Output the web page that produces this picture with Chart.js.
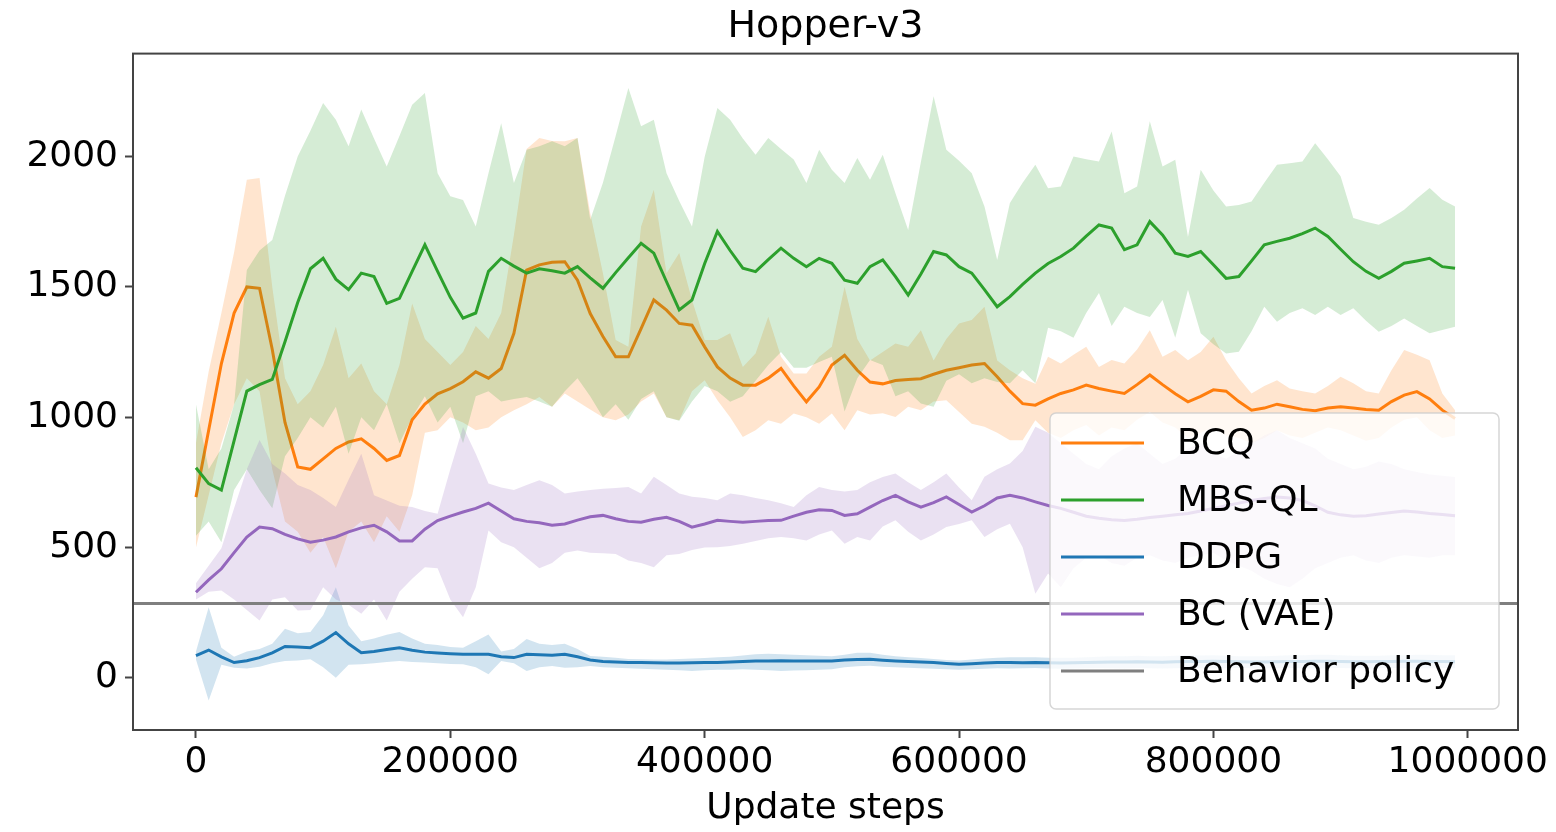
<!DOCTYPE html>
<html>
<head>
<meta charset="utf-8">
<title>Hopper-v3</title>
<script src="https://cdn.jsdelivr.net/npm/chart.js@4.4.1/dist/chart.umd.min.js"></script>
<style>
  html, body { margin: 0; padding: 0; background: #fff; }
  #wrap { width: 1556px; height: 832px; }
</style>
</head>
<body>
<div id="wrap"><canvas id="hopper" width="1556" height="832"></canvas></div>
<script>
// evaluation points (update steps)
const steps = [
  0, 10000, 20000, 30000, 40000, 50000, 60000, 70000, 80000, 90000,
  100000, 110000, 120000, 130000, 140000, 150000, 160000, 170000, 180000, 190000,
  200000, 210000, 220000, 230000, 240000, 250000, 260000, 270000, 280000, 290000,
  300000, 310000, 320000, 330000, 340000, 350000, 360000, 370000, 380000, 390000,
  400000, 410000, 420000, 430000, 440000, 450000, 460000, 470000, 480000, 490000,
  500000, 510000, 520000, 530000, 540000, 550000, 560000, 570000, 580000, 590000,
  600000, 610000, 620000, 630000, 640000, 650000, 660000, 670000, 680000, 690000,
  700000, 710000, 720000, 730000, 740000, 750000, 760000, 770000, 780000, 790000,
  800000, 810000, 820000, 830000, 840000, 850000, 860000, 870000, 880000, 890000,
  900000, 910000, 920000, 930000, 940000, 950000, 960000, 970000, 980000, 990000
];

const bcqMean = [
  693, 950, 1206, 1400, 1500, 1495, 1260, 980, 809, 800,
  840, 880, 905, 917, 880, 834, 853, 990, 1050, 1090,
  1110, 1136, 1174, 1150, 1187, 1322, 1565, 1585, 1595, 1597,
  1526, 1398, 1310, 1232, 1232, 1340, 1450, 1411, 1360, 1353,
  1270, 1193, 1150, 1123, 1123, 1150, 1187, 1120, 1059, 1116,
  1200, 1238, 1180, 1135, 1128, 1141, 1145, 1148, 1165, 1180,
  1190, 1200, 1206, 1155, 1100, 1052, 1046, 1070, 1091, 1105,
  1123, 1110, 1100, 1091, 1125, 1162, 1125, 1090, 1059, 1080,
  1105, 1100, 1060, 1027, 1035, 1050, 1040, 1030, 1025, 1035,
  1040, 1035, 1030, 1027, 1060, 1085, 1098, 1070, 1027, 995
];
const bcqLow = [
  500, 700, 900, 1050, 1150, 1100, 800, 600, 560, 480,
  540, 420, 560, 600, 520, 620, 560, 700, 940, 950,
  1000, 980, 950, 960, 1000, 1027, 1050, 1078, 1040, 1091,
  1060, 1030, 1000, 988, 1010, 1060, 1091, 1000, 988, 1100,
  1142, 1065, 1000, 924, 950, 988, 975, 1014, 1000, 975,
  1014, 950, 1027, 1010, 1015, 1001, 1040, 1027, 1060, 1065,
  1020, 975, 963, 940, 911, 911, 988, 940, 920, 950,
  970, 930, 960, 950, 990, 1020, 980, 960, 920, 940,
  960, 930, 920, 900, 920, 950, 930, 920, 940, 960,
  950, 930, 910, 920, 960, 990, 1000, 950, 920, 930
];
const bcqHigh = [
  900, 1175, 1400, 1633, 1912, 1918, 1500, 1150, 1050, 1100,
  1200, 1347, 1150, 1206, 1100, 1050, 1200, 1437, 1300, 1250,
  1200, 1250, 1350, 1300, 1400, 1700, 2030, 2072, 2060, 2059,
  2072, 1783, 1553, 1296, 1270, 1732, 1873, 1553, 1630, 1450,
  1296, 1296, 1322, 1193, 1245, 1386, 1232, 1168, 1168, 1232,
  1270, 1501, 1300, 1218, 1250, 1283, 1270, 1334, 1218, 1300,
  1360, 1373, 1424, 1218, 1180, 1150, 1128, 1232, 1206, 1240,
  1270, 1193, 1220, 1206, 1260, 1334, 1232, 1258, 1219, 1250,
  1309, 1219, 1150, 1091, 1120, 1142, 1110, 1100, 1091, 1120,
  1155, 1130, 1100, 1091, 1180, 1258, 1240, 1219, 1091, 1027
];

const mbsMean = [
  806, 745, 720, 910, 1100, 1125, 1145, 1290, 1440, 1570,
  1610, 1530, 1490, 1553, 1540, 1437, 1456, 1560, 1662, 1560,
  1460, 1380, 1400, 1560, 1610, 1580, 1553, 1570, 1562, 1553,
  1578, 1535, 1495, 1555, 1612, 1668, 1630, 1520, 1412, 1450,
  1590, 1713, 1640, 1572, 1559, 1605, 1649, 1610, 1578, 1610,
  1591, 1526, 1514, 1578, 1604, 1540, 1469, 1550, 1636, 1623,
  1578, 1553, 1490, 1424, 1463, 1510, 1553, 1590, 1617, 1649,
  1695, 1738, 1726, 1643, 1662, 1751, 1700, 1630, 1617, 1636,
  1585, 1533, 1540, 1600, 1662, 1675, 1687, 1705, 1726, 1694,
  1645, 1597, 1560, 1533, 1560, 1591, 1600, 1610, 1578, 1572
];
const mbsLow = [
  545, 600, 520, 720, 800, 720, 650, 850, 920, 1000,
  960, 1040, 860, 1000, 950, 1050, 900, 1000, 1080, 980,
  1040, 900, 1080, 1100, 1060, 1070, 1078, 1060, 1040, 1100,
  1150, 1080, 1000, 1050, 990, 1070, 1100, 1000, 986, 1060,
  1120, 1100, 1059, 1080, 1140, 1200, 1250, 1190, 1190, 1212,
  1232, 1022, 1150, 1220, 1200, 1080, 1100, 1053, 1040, 1140,
  1165, 1130, 1150, 1135, 1130, 1180, 1130, 1343, 1330, 1305,
  1400, 1477, 1350, 1424, 1400, 1385, 1450, 1305, 1489, 1322,
  1280, 1245, 1251, 1330, 1424, 1366, 1400, 1418, 1392, 1424,
  1392, 1418, 1370, 1328, 1350, 1379, 1350, 1322, 1335, 1347
];
const mbsHigh = [
  1050, 800, 880, 1050, 1565, 1640, 1680, 1850, 2001, 2100,
  2206, 2142, 2040, 2181, 2070, 1963, 2080, 2200, 2245, 1937,
  1848, 1834, 1732, 1937, 2129, 1899, 2027, 2040, 2059, 2040,
  2072, 1758, 1900, 2080, 2264, 2117, 2142, 1937, 1830, 1732,
  2000, 2187, 2142, 2070, 2008, 2072, 2030, 1989, 1899, 2027,
  1950, 1899, 1995, 1912, 2008, 1860, 1719, 1980, 2232, 2027,
  1985, 1937, 1809, 1604, 1822, 1900, 1969, 1879, 1886, 2001,
  1990, 1982, 2097, 1860, 1886, 2136, 1963, 1988, 1692, 1950,
  1870, 1809, 1815, 1828, 1900, 1969, 1975, 1982, 2052, 1990,
  1925, 1765, 1750, 1739, 1765, 1796, 1840, 1880, 1835, 1809
];

const ddpgMean = [
  85, 106, 80, 58, 65, 77, 95, 120, 118, 115,
  140, 173, 130, 96, 100, 108, 115, 105, 98, 95,
  92, 90, 90, 90, 80, 77, 90, 88, 86, 90,
  80, 68, 62, 60, 58, 58, 57, 56, 56, 57,
  58, 58, 60, 62, 64, 64, 65, 64, 64, 64,
  64, 68, 70, 71, 67, 64, 62, 60, 58, 54,
  51, 53, 56, 58, 58, 57, 58, 57, 56, 57,
  58, 59, 60, 60, 61, 60, 59, 61, 62, 62,
  63, 62, 61, 60, 60, 61, 62, 62, 63, 63,
  62, 61, 61, 62, 62, 63, 63, 62, 62, 61
];
const ddpgLow = [
  70, -88, 50, 38, 35, 42, 55, 64, 66, 71,
  40, 0, 50, 51, 55, 60, 64, 60, 58, 55,
  52, 51, 40, 13, 64, 55, 26, 40, 45, 38,
  40, 45, 40, 38, 36, 34, 32, 30, 28, 26,
  28, 30, 30, 32, 30, 28, 26, 27, 28, 30,
  32, 40, 44, 46, 42, 40, 38, 36, 34, 32,
  30, 32, 34, 36, 35, 36, 37, 35, 34, 35,
  36, 37, 36, 35, 37, 36, 35, 36, 37, 36,
  35, 36, 37, 36, 35, 36, 37, 36, 35, 36,
  37, 36, 35, 36, 37, 36, 35, 36, 37, 36
];
const ddpgHigh = [
  100, 270, 115, 80, 100, 110, 130, 188, 170, 175,
  240, 347, 200, 140, 150, 165, 175, 150, 130, 125,
  118, 115, 140, 166, 100, 110, 148, 130, 125, 130,
  110, 83, 80, 76, 72, 71, 70, 70, 72, 74,
  75, 78, 80, 85, 90, 92, 90, 88, 86, 84,
  82, 88, 96, 96, 88, 82, 78, 75, 72, 68,
  66, 70, 74, 76, 78, 78, 78, 76, 76, 76,
  78, 80, 82, 82, 84, 82, 82, 84, 86, 85,
  86, 84, 82, 82, 82, 84, 86, 86, 88, 88,
  86, 84, 84, 84, 86, 86, 88, 88, 86, 86
];

const bcMean = [
  328, 375, 418, 480, 540, 578, 572, 550, 533, 520,
  528, 540, 560, 575, 585, 560, 525, 525, 570, 603,
  620, 636, 650, 670, 640, 610, 600, 595, 585, 590,
  605, 618, 623, 610, 600, 597, 608, 616, 600, 578,
  590, 604, 600, 597, 600, 603, 604, 620, 635, 645,
  642, 623, 629, 655, 680, 700, 675, 655, 672, 694,
  665, 636, 660, 690, 700, 690, 675, 661, 650, 635,
  620, 612, 606, 603, 608, 615, 620, 625, 630, 640,
  650, 660, 670, 680, 688, 694, 690, 680, 660, 635,
  625, 620, 622, 628, 634, 640, 636, 630, 626, 622
];
const bcLow = [
  300, 330, 335, 300, 260, 219, 300, 309, 258, 260,
  347, 300, 280, 245, 300, 219, 330, 380, 424, 420,
  300, 232, 347, 565, 520, 501, 460, 420, 440, 480,
  488, 480, 478, 475, 450, 440, 424, 470, 475, 490,
  500, 501, 505, 514, 525, 535, 540, 535, 527, 550,
  565, 514, 540, 527, 580, 604, 560, 527, 550, 578,
  590, 604, 540, 570, 591, 501, 322, 400, 347, 420,
  460, 470, 440, 430, 460, 470, 450, 440, 460, 470,
  480, 450, 430, 410, 380, 360, 347, 380, 420, 440,
  460, 470, 450, 440, 460, 470, 465, 460, 470, 470
];
const bcHigh = [
  362, 430, 497, 650, 800, 912, 820, 784, 740, 720,
  690, 655, 760, 860, 700, 680, 660, 655, 640, 629,
  800, 962, 860, 745, 730, 720, 740, 758, 740, 707,
  715, 720, 725, 728, 732, 707, 771, 740, 707, 695,
  690, 681, 707, 700, 690, 681, 670, 655, 700, 732,
  720, 715, 720, 750, 770, 784, 750, 720, 750, 784,
  730, 681, 771, 800, 822, 870, 963, 940, 900, 860,
  820, 800, 850, 880, 900, 860, 820, 840, 880, 900,
  860, 840, 870, 900, 930, 950, 920, 900, 880, 840,
  820, 800, 810, 830, 820, 800, 790, 780, 775, 770
];

const behaviorReturn = 285;

const seriesNames = ["BCQ", "MBS-QL", "DDPG", "BC (VAE)", "Behavior policy"];
const seriesColors = ["#ff7f0e", "#2ca02c", "#1f77b4", "#9467bd", "#7f7f7f"];
const bandColors = [
  "rgba(255,127,14,0.2)", "rgba(44,160,44,0.2)",
  "rgba(31,119,180,0.2)", "rgba(148,103,189,0.2)"
];

const xTicks = [0, 200000, 400000, 600000, 800000, 1000000];
const yTicks = [0, 500, 1000, 1500, 2000];
const xLimits = [-49500, 1039500];
const yLimits = [-201, 2396];

const FONT = "'DejaVu Sans', sans-serif";

function pts(arr) {
  return arr.map((v, i) => ({ x: steps[i], y: v }));
}

// one mean line + a shaded band (lower, upper), stacked by draw order
function seriesSets(k, mean, low, high, depth) {
  return [
    {
      label: seriesNames[k], data: pts(mean),
      borderColor: seriesColors[k], borderWidth: 3,
      pointRadius: 0, tension: 0, fill: false, order: depth + 2
    },
    {
      label: seriesNames[k] + " low", data: pts(low),
      borderColor: "rgba(0,0,0,0)", borderWidth: 0,
      pointRadius: 0, tension: 0, fill: false, order: depth + 1
    },
    {
      label: seriesNames[k] + " high", data: pts(high),
      borderColor: "rgba(0,0,0,0)", borderWidth: 0,
      backgroundColor: bandColors[k],
      pointRadius: 0, tension: 0, fill: "-1", order: depth
    }
  ];
}

const datasets = [
  ...seriesSets(0, bcqMean, bcqLow, bcqHigh, 80),
  ...seriesSets(1, mbsMean, mbsLow, mbsHigh, 60),
  ...seriesSets(2, ddpgMean, ddpgLow, ddpgHigh, 40),
  ...seriesSets(3, bcMean, bcLow, bcHigh, 20),
  {
    label: seriesNames[4],
    data: [{ x: xLimits[0], y: behaviorReturn }, { x: xLimits[1], y: behaviorReturn }],
    borderColor: seriesColors[4], borderWidth: 3,
    pointRadius: 0, fill: false, order: 1
  }
];

// axes frame on top of the data, then matplotlib-like legend box
const frameAndLegend = {
  id: "frameAndLegend",
  afterDatasetsDraw(chart) {
    const { ctx, chartArea: a } = chart;
    ctx.save();
    ctx.strokeStyle = "#444";
    ctx.lineWidth = 2;
    ctx.strokeRect(a.left, a.top, a.right - a.left, a.bottom - a.top);

    const w = 449, h = 296;
    const x0 = a.right - 19 - w, y0 = a.bottom - 21 - h;
    ctx.beginPath();
    ctx.roundRect(x0, y0, w, h, 6);
    ctx.fillStyle = "rgba(255,255,255,0.8)";
    ctx.fill();
    ctx.strokeStyle = "rgba(204,204,204,0.8)";
    ctx.lineWidth = 1.5;
    ctx.stroke();

    ctx.font = "36px " + FONT;
    ctx.textBaseline = "middle";
    ctx.textAlign = "left";
    seriesNames.forEach((name, k) => {
      const y = y0 + 30 + k * 57;
      ctx.strokeStyle = seriesColors[k];
      ctx.lineWidth = 3;
      ctx.beginPath();
      ctx.moveTo(x0 + 11, y);
      ctx.lineTo(x0 + 94, y);
      ctx.stroke();
      ctx.fillStyle = "#000";
      ctx.fillText(name, x0 + 127, y + 2);
    });
    ctx.restore();
  }
};

new Chart(document.getElementById("hopper"), {
  type: "line",
  data: { datasets: datasets },
  options: {
    responsive: false,
    animation: false,
    layout: { padding: { left: 0, right: 38, top: 0, bottom: 0 } },
    plugins: {
      legend: { display: false },
      tooltip: { enabled: false },
      title: {
        display: true,
        text: "Hopper-v3",
        fullSize: false,
        color: "#000",
        font: { family: FONT, size: 38, weight: "normal" },
        padding: { top: 4, bottom: 4 }
      }
    },
    scales: {
      x: {
        type: "linear",
        min: xLimits[0],
        max: xLimits[1],
        afterBuildTicks: (s) => { s.ticks = xTicks.map(v => ({ value: v })); },
        afterFit: (s) => { s.height = 102; },
        grid: { drawOnChartArea: false, drawTicks: true, tickLength: 8, tickColor: "#444", tickWidth: 2 },
        border: { display: false },
        ticks: {
          color: "#000",
          font: { family: FONT, size: 36 },
          padding: 3,
          maxRotation: 0,
          autoSkip: false,
          callback: (v) => String(v)
        },
        title: {
          display: true,
          text: "Update steps",
          color: "#000",
          font: { family: FONT, size: 36 },
          padding: { top: 0, bottom: 2 }
        }
      },
      y: {
        type: "linear",
        min: yLimits[0],
        max: yLimits[1],
        afterBuildTicks: (s) => { s.ticks = yTicks.map(v => ({ value: v })); },
        afterFit: (s) => { s.width = 133; },
        grid: { drawOnChartArea: false, drawTicks: true, tickLength: 8, tickColor: "#444", tickWidth: 2 },
        border: { display: false },
        ticks: {
          color: "#000",
          font: { family: FONT, size: 36 },
          padding: 7,
          callback: (v) => String(v)
        }
      }
    }
  },
  plugins: [frameAndLegend]
});
</script>
</body>
</html>
